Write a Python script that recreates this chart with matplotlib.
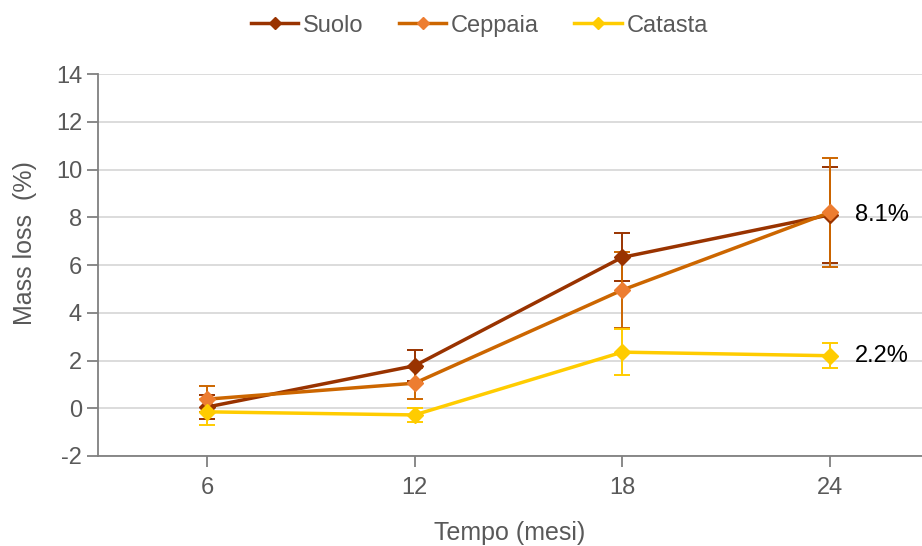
import numpy as np
import matplotlib.pyplot as plt

plt.rcParams['font.family'] = ['Liberation Sans', 'DejaVu Sans']
plt.rcParams['axes.unicode_minus'] = False

mesi = ['6', '12', '18', '24']
suolo = [0.05, 1.78, 6.32, 8.1]
suolo_err = [0.5, 0.65, 1.0, 2.0]
ceppaia = [0.38, 1.05, 4.95, 8.2]
ceppaia_err = [0.55, 0.65, 1.6, 2.3]
catasta = [-0.15, -0.28, 2.35, 2.2]
catasta_err = [0.55, 0.3, 0.95, 0.52]

series = [
    ('Suolo', suolo, suolo_err, '#993300', '#993300'),
    ('Ceppaia', ceppaia, ceppaia_err, '#CC6600', '#ED7D31'),
    ('Catasta', catasta, catasta_err, '#FFCC00', '#FFCC00'),
]

fig = plt.figure(figsize=(9.22, 5.46), dpi=100)
ax = fig.add_axes([98 / 922, 90 / 546, 1 - 98 / 922, 382 / 546])

x = np.arange(len(mesi))
for name, vals, err, lc, mc in series:
    ax.errorbar(x, vals, yerr=err, color=lc, ecolor=lc, elinewidth=1.4,
                capsize=6, capthick=1.4, linewidth=2.5, marker='D',
                markersize=8, markerfacecolor=mc, markeredgecolor=mc,
                label=name, zorder=3)

ax.set_xlim(-0.525, 3.444)
ax.set_ylim(-2, 14)
ax.set_yticks(range(-2, 15, 2))
ax.set_xticks(x)
ax.set_xticklabels(mesi)
ax.grid(axis='y', color='#D9D9D9', linewidth=1.3, zorder=0)
ax.set_axisbelow(True)

for s in ['top', 'right']:
    ax.spines[s].set_visible(False)
for s in ['left', 'bottom']:
    ax.spines[s].set_color('#808080')
    ax.spines[s].set_linewidth(1.3)
ax.tick_params(colors='#808080', labelcolor='#595959', labelsize=17,
               length=8, width=1.3)
ax.tick_params(axis='x', pad=7)

ax.set_xlabel('Tempo (mesi)', fontsize=18, color='#595959', labelpad=16)
ax.set_ylabel('Mass loss  (%)', fontsize=18, color='#595959')
ax.yaxis.set_label_coords(-0.074, 0.557)

ax.text(3.12, suolo[3], '8.1%', fontsize=17, va='center', ha='left')
ax.text(3.12, catasta[3], '2.2%', fontsize=17, va='center', ha='left')

handles, labels = ax.get_legend_handles_labels()
handles = [h[0] for h in handles]
fig.legend(handles, labels, loc='upper center', bbox_to_anchor=(0.52, 1.012),
           ncol=3, frameon=False, fontsize=17, labelcolor='#595959',
           handlelength=2.0, handletextpad=0.2, columnspacing=1.5,
           markerscale=0.8)

fig.savefig('out.png', dpi=100)
